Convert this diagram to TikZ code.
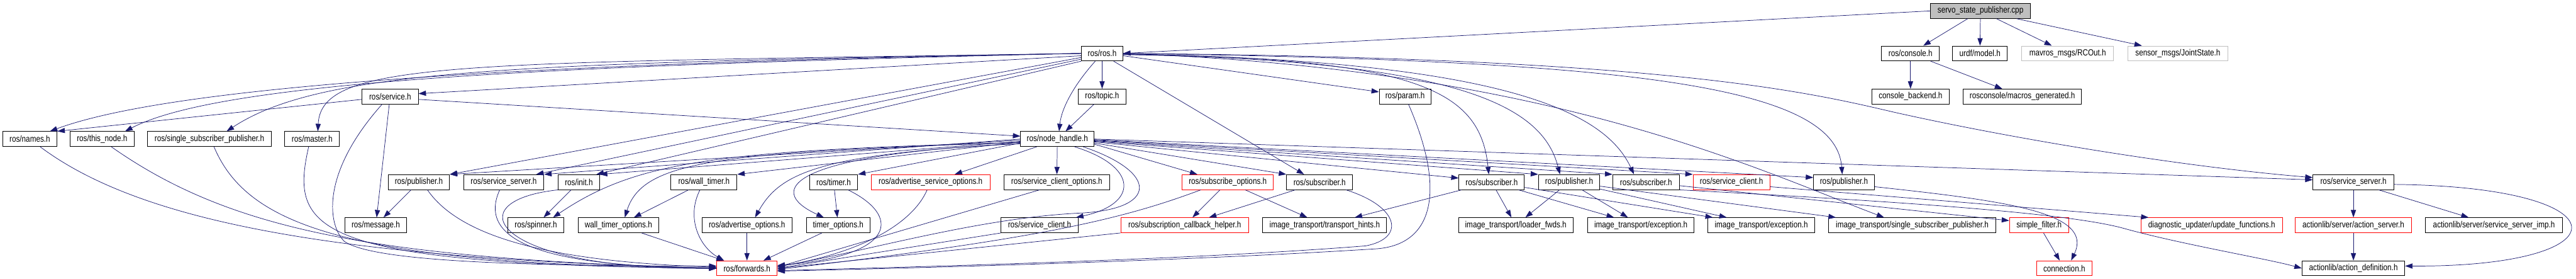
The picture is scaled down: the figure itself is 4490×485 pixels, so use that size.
\documentclass[tikz,border=0pt]{standalone}
\usepackage{fontspec}
\usepackage{xcolor}
\usepackage{tikz}
\usetikzlibrary{arrows.meta}
\newfontfamily\dotfont[FakeStretch=0.83]{Liberation Sans}
\definecolor{edgeblue}{HTML}{191970}
\definecolor{missgray}{HTML}{BFBFBF}
\definecolor{brokenred}{HTML}{FF0000}

\begin{document}
\begin{tikzpicture}[
  x=1pt,y=-1pt,
  box/.style={draw=black,line width=1pt,fill=white,minimum height=26pt,inner sep=0pt,font={\dotfont\fontsize{15.5}{16}\selectfont}},
  errbox/.style={box,draw=brokenred},
  missbox/.style={box,draw=missgray},
  mainbox/.style={box,fill=missgray},
  line/.style={draw=edgeblue,line width=0.8pt,-{Triangle[length=13pt,width=9pt]}}
]
\useasboundingbox (0,0) rectangle (4490,485);
\node[mainbox,minimum width=174pt] (servo) at (3452,19) {servo\_state\_publisher.cpp};
\node[box,minimum width=72pt] (ros) at (1921,93) {ros/ros.h};
\node[box,minimum width=101pt] (console) at (3330,93) {ros/console.h};
\node[box,minimum width=95pt] (urdf) at (3451,93) {urdf/model.h};
\node[missbox,minimum width=160pt] (rcout) at (3604,93) {mavros\_msgs/RCOut.h};
\node[missbox,minimum width=174pt] (joint) at (3796,93) {sensor\_msgs/JointState.h};
\node[box,minimum width=98pt] (service) at (680,168) {ros/service.h};
\node[box,minimum width=83pt] (topic) at (1921,168) {ros/topic.h};
\node[box,minimum width=90pt] (param) at (2449,168) {ros/param.h};
\node[box,minimum width=135pt] (backend) at (3330,168) {console\_backend.h};
\node[box,minimum width=206pt] (macros) at (3525,168) {rosconsole/macros\_generated.h};
\node[box,minimum width=95pt] (names) at (52,242) {ros/names.h};
\node[box,minimum width=111pt] (thisnode) at (178,242) {ros/this\_node.h};
\node[box,minimum width=216pt] (ssp) at (365,242) {ros/single\_subscriber\_publisher.h};
\node[box,minimum width=95pt] (master) at (544,242) {ros/master.h};
\node[box,minimum width=128pt] (nh) at (1843,242) {ros/node\_handle.h};
\node[box,minimum width=107pt] (pubA) at (730,317) {ros/publisher.h};
\node[box,minimum width=140pt] (srvA) at (878,317) {ros/service\_server.h};
\node[box,minimum width=72pt] (init) at (1009,317) {ros/init.h};
\node[box,minimum width=115pt] (wtimer) at (1227,317) {ros/wall\_timer.h};
\node[box,minimum width=84pt] (timer) at (1453,317) {ros/timer.h};
\node[errbox,minimum width=207pt] (aso) at (1622,317) {ros/advertise\_service\_options.h};
\node[box,minimum width=185pt] (sco) at (1842,317) {ros/service\_client\_options.h};
\node[errbox,minimum width=159pt] (subopt) at (2140,317) {ros/subscribe\_options.h};
\node[box,minimum width=115pt] (subA) at (2300,317) {ros/subscriber.h};
\node[box,minimum width=114pt] (subB) at (2600,317) {ros/subscriber.h};
\node[box,minimum width=107pt] (pubB) at (2735,317) {ros/publisher.h};
\node[box,minimum width=116pt] (subC) at (2869,317) {ros/subscriber.h};
\node[errbox,minimum width=134pt] (scB) at (3018,317) {ros/service\_client.h};
\node[box,minimum width=106pt] (pubC) at (3214,317) {ros/publisher.h};
\node[box,minimum width=141pt] (srvB) at (4102,317) {ros/service\_server.h};
\node[box,minimum width=107pt] (msg) at (655,392) {ros/message.h};
\node[box,minimum width=98pt] (spinner) at (934,392) {ros/spinner.h};
\node[box,minimum width=141pt] (wto) at (1078,392) {wall\_timer\_options.h};
\node[box,minimum width=157pt] (advopt) at (1302,392) {ros/advertise\_options.h};
\node[box,minimum width=110pt] (topt) at (1461,392) {timer\_options.h};
\node[box,minimum width=134pt] (scA) at (1812,392) {ros/service\_client.h};
\node[errbox,minimum width=223pt] (sch) at (2065,392) {ros/subscription\_callback\_helper.h};
\node[box,minimum width=216pt] (hints) at (2309,392) {image\_transport/transport\_hints.h};
\node[box,minimum width=199pt] (loader) at (2642,392) {image\_transport/loader\_fwds.h};
\node[box,minimum width=186pt] (excA) at (2860,392) {image\_transport/exception.h};
\node[box,minimum width=187pt] (excB) at (3070,392) {image\_transport/exception.h};
\node[box,minimum width=291pt] (itssp) at (3333,392) {image\_transport/single\_subscriber\_publisher.h};
\node[errbox,minimum width=103pt] (sfilter) at (3554,392) {simple\_filter.h};
\node[errbox,minimum width=246pt] (diag) at (3855,392) {diagnostic\_updater/update\_functions.h};
\node[errbox,minimum width=203pt] (actsrv) at (4102,392) {actionlib/server/action\_server.h};
\node[box,minimum width=239pt] (ssimp) at (4347,392) {actionlib/server/service\_server\_imp.h};
\node[errbox,minimum width=105pt] (fwd) at (1302,467) {ros/forwards.h};
\node[errbox,minimum width=96pt] (conn) at (3598,467) {connection.h};
\node[box,minimum width=179pt] (actdef) at (4102,467) {actionlib/action\_definition.h};
\draw[line] (servo.west) -- (ros.east);
\draw[line] (servo) -- (console);
\draw[line] (servo) -- (urdf);
\draw[line] (servo) -- (rcout);
\draw[line] (servo) -- (joint);
\draw[line] (console) -- (backend);
\draw[line] (console) -- (macros);
\draw[line] (ros.west) .. controls (900,110) and (300,150) .. ([xshift=35pt]names.north);
\draw[line] (ros.west) .. controls (900,115) and (380,145) .. ([xshift=40pt]thisnode.north);
\draw[line] (ros.west) .. controls (900,110) and (560,120) .. ([xshift=30pt]ssp.north);
\draw[line] (ros.west) .. controls (800,110) and (560,105) .. ([xshift=10pt]master.north);
\draw[line] ([yshift=-4pt]ros.west) -- ([yshift=5pt]service.east);
\draw[line] (ros) -- (topic);
\draw[line] ([xshift=-12pt]ros.south) .. controls (1870,150) and (1850,190) .. ([xshift=3pt]nh.north);
\draw[line] ([yshift=-7pt]ros.west) -- (pubA.north east);
\draw[line] ([yshift=-10pt]ros.west) -- ([xshift=-14pt]srvA.north east);
\draw[line] (ros.south west) -- ([xshift=-6pt]init.north east);
\draw[line] ([yshift=-4pt]ros.east) -- ([yshift=8pt]param.west);
\draw[line] ([xshift=20pt]ros.south) -- ([xshift=-27pt]subA.north);
\draw[line] ([yshift=-2pt]ros.east) .. controls (2480,100) and (2580,160) .. ([xshift=-5pt]subB.north);
\draw[line] ([yshift=-2pt]ros.east) .. controls (2560,105) and (2690,190) .. ([xshift=-16pt]pubB.north);
\draw[line] ([yshift=-1pt]ros.east) .. controls (2640,105) and (2800,200) .. ([xshift=-21pt]subC.north);
\draw[line] (ros.east) .. controls (2700,120) and (3050,290) .. ([xshift=-49pt]itssp.north);
\draw[line] (ros.east) .. controls (2850,105) and (3200,150) .. ([xshift=-3pt]pubC.north);
\draw[line] (ros.east) .. controls (2900,100) and (3150,160) .. (3300,195) .. controls (3500,240) and (3800,290) .. ([yshift=8pt]srvB.west);
\draw[line] (topic) -- (nh);
\draw[line] ([yshift=-2pt]nh.west) -- (pubA.north east);
\draw[line] (nh.west) -- (srvA.north east);
\draw[line] ([yshift=-4pt]nh.west) -- (init.north east);
\draw[line] ([yshift=-6pt]nh.west) .. controls (1250,262) and (1110,280) .. ([xshift=30pt]spinner.north);
\draw[line] ([yshift=-6pt]nh.west) .. controls (1250,265) and (1120,280) .. ([xshift=11pt]wto.north);
\draw[line] ([yshift=-5pt]nh.west) -- (wtimer.north east);
\draw[line] ([yshift=-8pt]nh.west) .. controls (1430,268) and (1360,300) .. ([xshift=14pt]advopt.north);
\draw[line] ([yshift=-8pt]nh.west) .. controls (1380,268) and (1330,330) .. ([xshift=-25pt]topt.north);
\draw[line] ([yshift=-7pt]nh.west) -- (timer.north east);
\draw[line] ([xshift=-36pt]nh.south) -- ([xshift=42pt]aso.north);
\draw[line] (nh) -- (sco);
\draw[line] ([xshift=30pt]nh.south) .. controls (1985,290) and (1985,355) .. ([xshift=-4pt]scA.north east);
\draw[line] ([xshift=45pt]nh.south) .. controls (2020,300) and (2020,365) .. (1880,371) .. controls (1700,380) and (1500,440) .. ([yshift=3pt]fwd.east);
\draw[line] ([yshift=-9pt]nh.east) -- ([xshift=-53pt]subopt.north);
\draw[line] ([yshift=-7pt]nh.east) -- (subA.north west);
\draw[line] ([yshift=-5pt]nh.east) -- ([yshift=7pt]subB.west);
\draw[line] ([yshift=-4pt]nh.east) -- (pubB.north west);
\draw[line] ([yshift=-3pt]nh.east) -- (subC.north west);
\draw[line] ([yshift=-2pt]nh.east) -- (scB.north west);
\draw[line] ([yshift=-1pt]nh.east) -- ([yshift=8pt]pubC.west);
\draw[line] (nh.east) -- ([yshift=4pt]srvB.west);
\draw[line] ([yshift=-5pt]service.west) -- (names.north east);
\draw[line] ([yshift=-5pt]service.east) -- ([yshift=5pt]nh.west);
\draw[line] (service) -- (msg);
\draw[line] ([xshift=-14pt]service.south) .. controls (560,300) and (570,390) .. (600,420) .. controls (650,455) and (900,463) .. ([yshift=4pt]fwd.west);
\draw[line] ([xshift=18pt]names.south) .. controls (250,390) and (600,450) .. (fwd.west);
\draw[line] ([xshift=16pt]thisnode.south) .. controls (400,400) and (650,450) .. (fwd.west);
\draw[line] ([xshift=8pt]ssp.south) .. controls (430,390) and (600,460) .. (fwd.west);
\draw[line] ([xshift=-6pt]master.south) .. controls (505,400) and (540,460) .. (fwd.west);
\draw[line] (pubA) -- (msg);
\draw[line] ([xshift=15pt]pubA.south) .. controls (800,410) and (950,455) .. ([yshift=2pt]fwd.west);
\draw[line] ([xshift=-7pt]srvA.south) .. controls (830,420) and (950,465) .. ([yshift=1pt]fwd.west);
\draw[line] (init) -- (spinner);
\draw[line] (init.south west) .. controls (790,350) and (860,470) .. (fwd.west);
\draw[line] (wtimer) -- (wto);
\draw[line] ([xshift=-7pt]wtimer.south) .. controls (1195,380) and (1220,430) .. ([xshift=-40pt]fwd.north);
\draw[line] (wto) -- (fwd);
\draw[line] (advopt) -- (fwd);
\draw[line] (topt) -- (fwd);
\draw[line] (timer) -- (topt);
\draw[line] ([xshift=25pt]timer.south) .. controls (1570,375) and (1565,445) .. ([yshift=5pt]fwd.east);
\draw[line] ([xshift=-6pt]aso.south) .. controls (1590,390) and (1500,440) .. ([yshift=3pt]fwd.east);
\draw[line] ([xshift=-30pt]sco.south) -- ([yshift=2pt]fwd.east);
\draw[line] (scA.south west) -- (fwd.east);
\draw[line] (sch.south west) -- (fwd.east);
\draw[line] ([xshift=-47pt]subopt.south) .. controls (1960,380) and (1820,415) .. ([yshift=-2pt]fwd.east);
\draw[line] ([xshift=46pt]subA.south) .. controls (2440,360) and (2450,415) .. (2380,428) .. controls (2100,450) and (1700,462) .. ([yshift=-4pt]fwd.east);
\draw[line] ([xshift=6pt]param.south) .. controls (2520,330) and (2500,425) .. (2400,433) .. controls (2100,452) and (1700,464) .. ([yshift=-5pt]fwd.east);
\draw[line] (subopt) -- (sch);
\draw[line] (subopt) -- (hints);
\draw[line] (subA) -- (sch);
\draw[line] (subB) -- (hints);
\draw[line] (subB) -- (loader);
\draw[line] (subB) -- (excA);
\draw[line] (subB) -- (excB);
\draw[line] (pubB) -- (loader);
\draw[line] (pubB) -- (excA);
\draw[line] (pubB) -- (excB);
\draw[line] (pubB) -- ([xshift=-133pt]itssp.north);
\draw[line] (subC) -- ([yshift=8pt]sfilter.west);
\draw[line] (subC.south east) .. controls (3300,350) and (3600,370) .. (3700,397) .. controls (3800,425) and (3950,450) .. (actdef.west);
\draw[line] ([yshift=-8pt]scB.east) -- ([xshift=-110pt]diag.north);
\draw[line] ([yshift=-8pt]pubC.east) .. controls (3500,350) and (3650,370) .. ([xshift=12pt]conn.north);
\draw[line] (sfilter) -- (conn);
\draw[line] (srvB) -- (actsrv);
\draw[line] (srvB) -- (ssimp);
\draw[line] ([yshift=-4pt]srvB.east) .. controls (4580,325) and (4580,465) .. ([yshift=4pt]actdef.east);
\draw[line] (actsrv) -- (actdef);
\end{tikzpicture}
\end{document}
